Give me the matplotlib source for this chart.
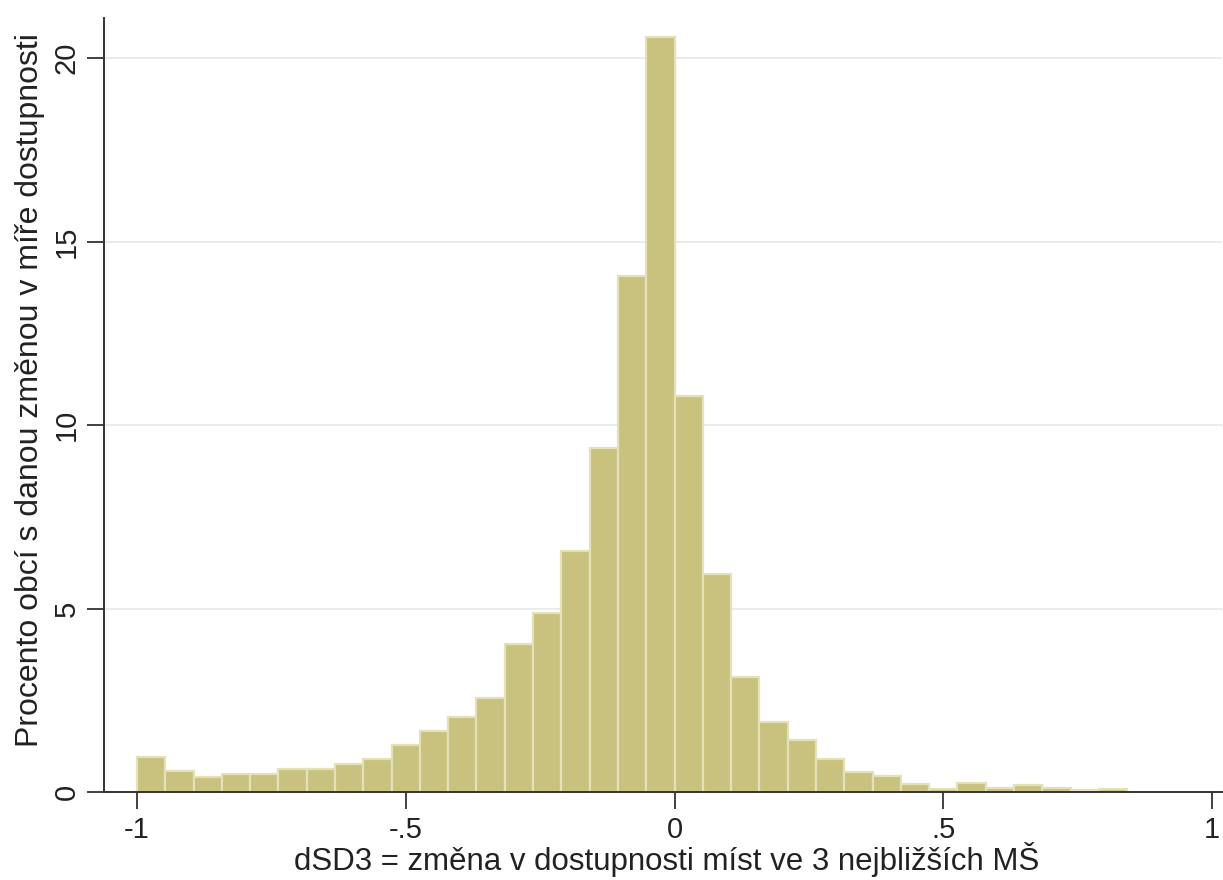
import numpy as np
import matplotlib
matplotlib.use("Agg")
import matplotlib.pyplot as plt

BAR_FILL = '#C9C17E'
BAR_EDGE = '#E4E0B8'
GRID = '#E8E8E8'
AXIS = '#333333'

# Stata-style histogram: 35 bins of width 1/19 starting at -1
n_bins = 35
bin_width = 1.0 / 19
bin_start = -1.0

# percent of municipalities per bin
percent = [0.96, 0.57, 0.42, 0.49, 0.49, 0.63, 0.63, 0.76, 0.90, 1.28,
           1.67, 2.03, 2.55, 4.03, 4.88, 6.57, 9.37, 14.06, 20.56,
           10.79, 5.94, 3.12, 1.92, 1.42, 0.89, 0.54, 0.43, 0.22, 0.08,
           0.25, 0.12, 0.18, 0.12, 0.05, 0.07]

x_ticks = [-1, -0.5, 0, 0.5, 1]
x_tick_labels = ['-1', '-.5', '0', '.5', '1']
y_ticks = [0, 5, 10, 15, 20]

plt.rcParams['font.family'] = ['Liberation Sans', 'DejaVu Sans']

fig = plt.figure(figsize=(12.23, 8.80), dpi=100)
ax = fig.add_axes([104 / 1223, 1 - 792 / 880, (1222 - 104) / 1223, (792 - 18) / 880])

lefts = bin_start + np.arange(n_bins) * bin_width
ax.bar(lefts, percent, width=bin_width, align='edge', color=BAR_FILL,
       edgecolor=BAR_EDGE, linewidth=1.6, zorder=2)

for y in y_ticks[1:]:
    ax.axhline(y, color=GRID, linewidth=1.2, zorder=1)

ax.set_xlim(-1.0614, 1.0186)
ax.set_ylim(0, 21.09)

ax.set_xticks(x_ticks)
ax.set_xticklabels(x_tick_labels)
ax.set_yticks(y_ticks)
ax.set_yticklabels([str(v) for v in y_ticks], rotation=90, va='center')

ax.tick_params(axis='both', direction='out', length=12, width=1.3,
               color=AXIS, labelsize=21, labelcolor='#222222', pad=5)

for side in ['top', 'right']:
    ax.spines[side].set_visible(False)
for side in ['left', 'bottom']:
    ax.spines[side].set_color(AXIS)
    ax.spines[side].set_linewidth(1.4)

ax.set_xlabel('dSD3 = změna v dostupnosti míst ve 3 nejbližších MŠ',
              fontsize=22.5, color='#222222')
ax.xaxis.set_label_coords(0.503, -0.064)
ax.set_ylabel('Procento obcí s danou změnou v míře dostupnosti',
              fontsize=23, color='#222222')
ax.yaxis.set_label_coords(-0.053, 0.519)

fig.savefig('out.png', dpi=100, facecolor='white')
